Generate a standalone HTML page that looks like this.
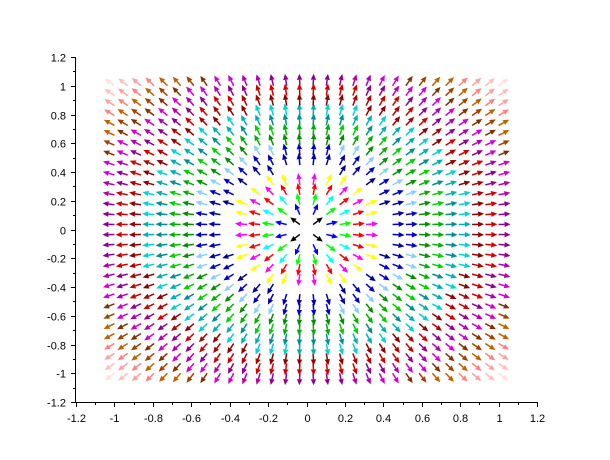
<!DOCTYPE html>
<html><head><meta charset="utf-8"><style>
html,body{margin:0;padding:0;background:#fff}
svg{display:block}
text{font-family:"Liberation Sans",sans-serif;font-size:11px;fill:#000}
</style></head><body>
<svg id="chart" width="610" height="460">
<g id="arrows"></g>
<g id="axes"></g>
</svg>
<script>
const gridValues = [-1,-0.931,-0.8621,-0.7931,-0.7241,-0.6552,-0.5862,-0.5172,-0.4483,-0.3793,-0.3103,-0.2414,-0.1724,-0.1034,-0.0345,0.0345,0.1034,0.1724,0.2414,0.3103,0.3793,0.4483,0.5172,0.5862,0.6552,0.7241,0.7931,0.8621,0.931,1];
const xTicks = [-1.2,-1,-0.8,-0.6,-0.4,-0.2,0,0.2,0.4,0.6,0.8,1,1.2];
const yTicks = [-1.2,-1,-0.8,-0.6,-0.4,-0.2,0,0.2,0.4,0.6,0.8,1,1.2];
const colormap = ["#000000","#0000ff","#00ff00","#00ffff","#ff0000","#ff00ff","#ffff00","#ffffff",
"#00008f","#0000b0","#0000d1","#87cfff","#008f00","#00b000","#00d100","#008f8f","#00b0b0","#00d1d1",
"#8f0000","#b00000","#d10000","#8f008f","#b000b0","#d100d1","#803000","#a14000","#bf6100",
"#ff8080","#ffa1a1","#ffbfbf","#ffe0e0","#ffd600"];
const NS="http://www.w3.org/2000/svg";
const X0=76,X1=537,Y0=402,Y1=57;
function sx(v){return X0+(v+1.2)/2.4*(X1-X0);}
function sy(v){return Y0-(v+1.2)/2.4*(Y0-Y1);}
const ag=document.getElementById('arrows');
let rmin=Infinity,rmax=0;
gridValues.forEach(x=>gridValues.forEach(y=>{const r=Math.hypot(x,y);if(r>1e-9){rmin=Math.min(rmin,r);rmax=Math.max(rmax,r);}}));
gridValues.forEach(x=>gridValues.forEach(y=>{
  const r=Math.hypot(x,y); if(r<1e-9) return;
  let idx=Math.min(30,Math.floor(30.999*(r-rmin)/(rmax-rmin)));
  const col=colormap[idx];
  let dx=x*(X1-X0)/2.4, dy=-y*(Y0-Y1)/2.4; const n=Math.hypot(dx,dy); dx/=n; dy/=n;
  const tx=sx(x),ty=sy(y),L=12,H=6,W=2.7;
  const hx=tx+dx*L,hy=ty+dy*L;
  const bx=hx-dx*H,by=hy-dy*H;
  const g=document.createElementNS(NS,'g');
  
  
  const ln=document.createElementNS(NS,'line');
  ln.setAttribute('x1',tx);ln.setAttribute('y1',ty);ln.setAttribute('x2',bx);ln.setAttribute('y2',by);
  ln.setAttribute('stroke',col);ln.setAttribute('stroke-width','1.5');
  const p=document.createElementNS(NS,'polygon');
  p.setAttribute('points',`${hx},${hy} ${bx-dy*W},${by+dx*W} ${bx+dy*W},${by-dx*W}`);
  p.setAttribute('fill',col);
  g.appendChild(ln);g.appendChild(p);ag.appendChild(g);
}));
const ax=document.getElementById('axes');
function line(x1,y1,x2,y2,name){const l=document.createElementNS(NS,'line');
l.setAttribute('x1',x1);l.setAttribute('y1',y1);l.setAttribute('x2',x2);l.setAttribute('y2',y2);
l.setAttribute('stroke','#000');l.setAttribute('stroke-width','1');


ax.appendChild(l);}
function text(x,y,s,anchor,name){const t=document.createElementNS(NS,'text');
t.setAttribute('x',x);t.setAttribute('y',y);t.setAttribute('text-anchor',anchor);t.textContent=s;


ax.appendChild(t);}
line(X0,Y0+0.5,X1,Y0+0.5,'x-axis');
line(X0-0.5,Y0,X0-0.5,Y1,'y-axis');
xTicks.forEach((v,i)=>{const px=Math.round(sx(v))+0.5;line(px,Y0,px,Y0+5,'x-tick');text(px,Y0+20,String(v),'middle','x-tick-label');
 if(i<xTicks.length-1){const m=Math.round(sx(v+0.1))+0.5;line(m,Y0,m,Y0+3,'x-minor-tick');}});
yTicks.forEach((v,i)=>{const py=Math.round(sy(v))+0.5;line(X0-5,py,X0,py,'y-tick');text(X0-10,py+4,String(v),'end','y-tick-label');
 if(i<yTicks.length-1){const m=Math.round(sy(v+0.1))+0.5;line(X0-3,m,X0,m,'y-minor-tick');}});
</script>
</body></html>
